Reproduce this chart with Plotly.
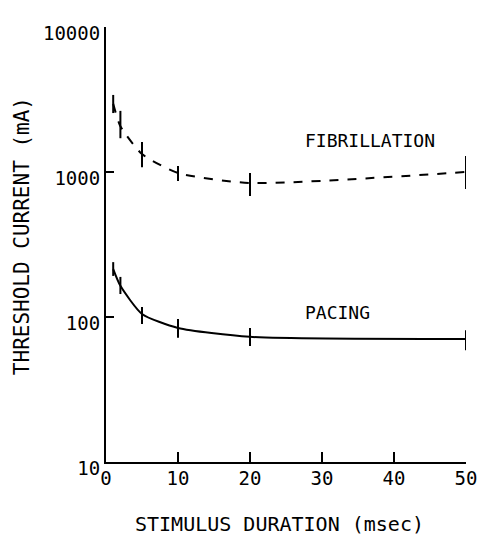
import plotly.graph_objects as go

duration = [1, 2, 5, 10, 20, 50]
x_ticks = [0, 10, 20, 30, 40, 50]
y_ticks = [10, 100, 1000, 10000]
y_tick_labels = ["10", "100", "1000", "10000"]

fib_mean = [2950, 2070, 1330, 985, 840, 1000]
fib_upper = [3400, 2640, 1610, 1100, 985, 1290]
fib_lower = [2550, 1710, 1080, 867, 682, 764]

pac_mean = [214, 164, 105, 84, 73, 70.5]
pac_upper = [239, 189, 117, 97, 84, 81]
pac_lower = [192, 144, 89.5, 72, 63, 59]

FONT = "DejaVu Sans Mono"

def err(mean, up, lo):
    return dict(type="data", symmetric=False,
                array=[u - m for u, m in zip(up, mean)],
                arrayminus=[m - l for m, l in zip(mean, lo)],
                color="black", thickness=2, width=0)

fig = go.Figure()
fig.add_trace(go.Scatter(x=duration, y=fib_mean, mode="lines",
                         line=dict(color="black", width=2, dash="dash", shape="spline", smoothing=0.6),
                         error_y=err(fib_mean, fib_upper, fib_lower), showlegend=False))
fig.add_trace(go.Scatter(x=duration, y=pac_mean, mode="lines",
                         line=dict(color="black", width=2, shape="spline", smoothing=0.6),
                         error_y=err(pac_mean, pac_upper, pac_lower), showlegend=False))

fig.add_annotation(x=36.7, y=3.214, xref="x", yref="y", text="FIBRILLATION", showarrow=False,
                   xanchor="center", yanchor="middle",
                   font=dict(family=FONT, size=18, color="black"))
fig.add_annotation(x=32.2, y=2.034, xref="x", yref="y", text="PACING", showarrow=False,
                   xanchor="center", yanchor="middle",
                   font=dict(family=FONT, size=18, color="black"))
# axis titles
fig.add_annotation(x=-0.233, y=0.5195, xref="paper", yref="paper", text="THRESHOLD CURRENT (mA)",
                   textangle=-90, showarrow=False, xanchor="center", yanchor="middle",
                   font=dict(family=FONT, size=21, color="black"))
fig.add_annotation(x=0.483, y=-0.1425, xref="paper", yref="paper", text="STIMULUS DURATION (msec)",
                   showarrow=False, xanchor="center", yanchor="middle",
                   font=dict(family=FONT, size=20, color="black"))

fig.update_layout(
    width=481, height=536,
    margin=dict(l=106, r=15, t=27, b=74, autoexpand=False),
    plot_bgcolor="white", paper_bgcolor="white",
    font=dict(family=FONT, size=19, color="black"),
)
fig.update_xaxes(range=[0, 50], tickvals=x_ticks, ticks="inside", ticklen=10, tickwidth=2,
                 tickcolor="black", showline=True, linecolor="black", linewidth=2,
                 showgrid=False, zeroline=False, automargin=False,
                 tickfont=dict(family=FONT, size=19), ticklabelstandoff=-2)
fig.update_yaxes(type="log", range=[1, 4], tickvals=y_ticks, ticktext=y_tick_labels,
                 ticks="inside", ticklen=8, tickwidth=2, tickcolor="black",
                 showline=True, linecolor="black", linewidth=2,
                 showgrid=False, zeroline=False, ticklabelshift=6, automargin=False,
                 tickfont=dict(family=FONT, size=19), ticklabelstandoff=0)

fig.write_html("out.html", config={"displayModeBar": False},
               post_script="document.body.style.margin='0';document.body.style.overflow='hidden';")
